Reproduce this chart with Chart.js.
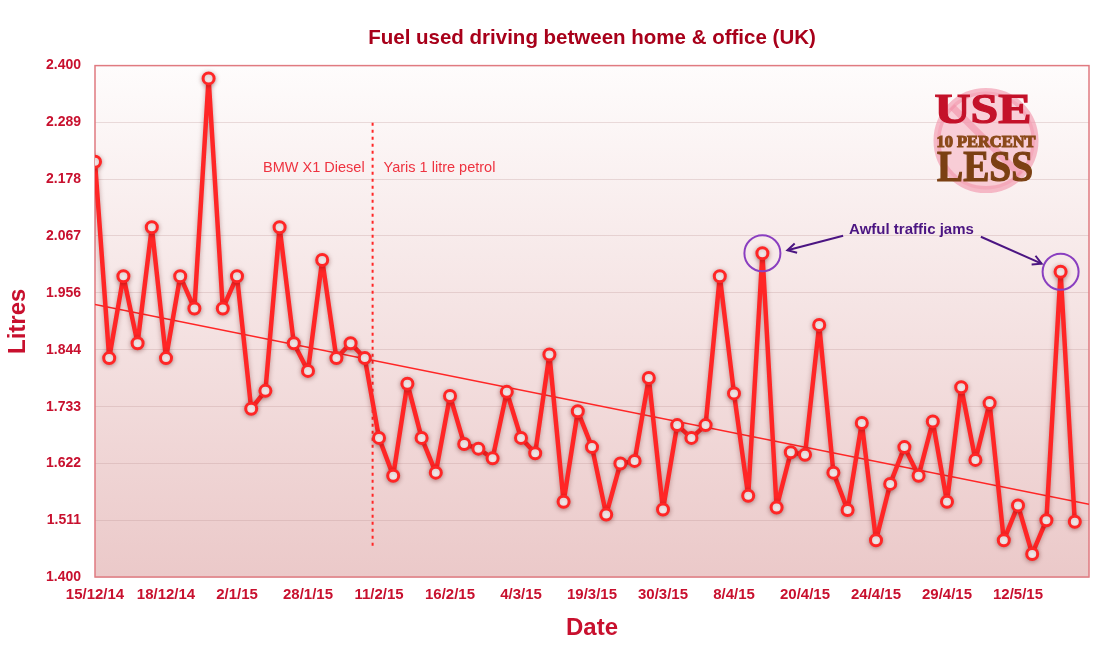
<!DOCTYPE html>
<html><head><meta charset="utf-8">
<script src="https://cdn.jsdelivr.net/npm/chart.js@4.4.0/dist/chart.umd.min.js"></script>
<style>html,body{margin:0;padding:0;background:#fff;} #wrap{width:1100px;height:651px;}</style>
</head><body><div id="wrap"><canvas id="c" width="1100" height="651"></canvas></div>
<script>
// ---- data ----
const dateLabels = ['15/12/14','18/12/14','2/1/15','28/1/15','11/2/15','16/2/15','4/3/15','19/3/15','30/3/15','8/4/15','20/4/15','24/4/15','29/4/15','12/5/15'];
const dateTickIndex = [0,5,10,15,20,25,30,35,40,45,50,55,60,65];
const litres = [
  2.212,1.828,1.988,1.857,2.084,1.828,1.988,1.925,2.375,1.925,
  1.988,1.729,1.764,2.084,1.857,1.803,2.020,1.828,1.857,1.828,
  1.672,1.598,1.778,1.672,1.604,1.754,1.660,1.651,1.632,1.762,
  1.672,1.642,1.835,1.547,1.724,1.654,1.522,1.622,1.627,1.789,
  1.532,1.697,1.672,1.697,1.988,1.759,1.559,2.033,1.536,1.644,
  1.639,1.893,1.604,1.531,1.701,1.472,1.582,1.654,1.598,1.704,
  1.547,1.771,1.629,1.740,1.472,1.540,1.445,1.511,1.997,1.508
];
const yTickLabels = ['1.400','1.511','1.622','1.733','1.844','1.956','2.067','2.178','2.289','2.400'];
const trendX = [0, 70];
const trendY = [1.933, 1.542];
const changeoverX = [19.55, 19.55];
const changeoverY = [1.461, 2.289];
const carLabels = ['BMW X1 Diesel', 'Yaris 1 litre petrol'];
const carLabelY = 2.2;
const jamIndices = [47, 68];
const jamText = 'Awful traffic jams';
const jamTextPos = [57.5, 2.079];

// ---- styles ----
const red = '#ff2626';
const tickColor = '#c8102e';
const FONT = 'Arial, "Liberation Sans", Helvetica, sans-serif';
const SERIF = '"Liberation Serif", "DejaVu Serif", serif';

function fitText(ctx, text, cx, base, width, font, color) {
  ctx.save();
  ctx.font = font;
  ctx.fillStyle = color;
  ctx.strokeStyle = color;
  ctx.lineWidth = 1.2;
  ctx.textAlign = 'center';
  ctx.textBaseline = 'alphabetic';
  const w = ctx.measureText(text).width;
  ctx.translate(cx, base);
  ctx.scale(width / w, 1);
  ctx.fillText(text, 0, 0);
  ctx.strokeText(text, 0, 0);
  ctx.restore();
}

const bgPlugin = {
  id: 'bg',
  beforeDraw(chart) {
    const {ctx, chartArea: a} = chart;
    ctx.save();
    ctx.fillStyle = '#fff';
    ctx.fillRect(0, 0, chart.width, chart.height);
    const g = ctx.createLinearGradient(0, a.top, 0, a.bottom);
    g.addColorStop(0, '#fefcfc');
    g.addColorStop(1, '#ebc9c9');
    ctx.fillStyle = g;
    ctx.fillRect(a.left, a.top, a.right - a.left, a.bottom - a.top);
    ctx.restore();
  },
  beforeDatasetsDraw(chart) {
    const {ctx, chartArea: a} = chart;
    ctx.save();
    ctx.strokeStyle = '#e07a80';
    ctx.lineWidth = 1.5;
    ctx.strokeRect(a.left, a.top, a.right - a.left, a.bottom - a.top);
    // logo
    const cx = a.right - 103, cy = a.top + 75;
    ctx.beginPath();
    ctx.arc(cx, cy, 49, 0, Math.PI * 2);
    ctx.fillStyle = 'rgba(246,180,195,0.6)';
    ctx.fill();
    ctx.lineWidth = 7;
    ctx.strokeStyle = 'rgba(242,145,168,0.6)';
    ctx.stroke();
    ctx.beginPath();
    ctx.moveTo(cx - 34, cy - 34);
    ctx.lineTo(cx + 34, cy + 34);
    ctx.stroke();
    ctx.restore();
    fitText(ctx, 'USE', cx - 3, cy - 18, 97, 'bold 43px ' + SERIF, '#c4122a');
    fitText(ctx, '10 PERCENT', cx, cy + 6, 99, 'bold 17px ' + SERIF, '#8b4a1a');
    fitText(ctx, 'LESS', cx - 1, cy + 40, 96, 'bold 44px ' + SERIF, '#7b4013');
  }
};

const shadowPlugin = {
  id: 'shadow',
  beforeDatasetDraw(chart, args) {
    if (args.index === 0) {
      const c = chart.ctx;
      c.save();
      c.shadowColor = 'rgba(90,0,0,0.35)';
      c.shadowBlur = 5;
      c.shadowOffsetY = 1;
    }
  },
  afterDatasetDraw(chart, args) {
    if (args.index === 0) chart.ctx.restore();
  }
};

function arrow(ctx, x1, y1, x2, y2) {
  ctx.beginPath();
  ctx.moveTo(x1, y1);
  ctx.lineTo(x2, y2);
  ctx.stroke();
  const ang = Math.atan2(y2 - y1, x2 - x1);
  const L = 10, w = 0.5;
  ctx.beginPath();
  ctx.moveTo(x2 - L * Math.cos(ang - w), y2 - L * Math.sin(ang - w));
  ctx.lineTo(x2, y2);
  ctx.lineTo(x2 - L * Math.cos(ang + w), y2 - L * Math.sin(ang + w));
  ctx.stroke();
}

const annotPlugin = {
  id: 'annot',
  afterDatasetsDraw(chart) {
    const {ctx, scales: {x, y}} = chart;
    ctx.save();
    // car labels
    const lx = x.getPixelForValue(changeoverX[0]);
    const ly = y.getPixelForValue(carLabelY);
    ctx.font = '14.5px ' + FONT;
    ctx.fillStyle = '#ee3340';
    ctx.textBaseline = 'middle';
    ctx.textAlign = 'right';
    ctx.fillText(carLabels[0], lx - 8, ly);
    ctx.textAlign = 'left';
    ctx.fillText(carLabels[1], lx + 11, ly);
    // circles
    const circles = jamIndices.map(i => ({cx: x.getPixelForValue(i), cy: y.getPixelForValue(litres[i])}));
    ctx.strokeStyle = '#8a3fc0';
    ctx.lineWidth = 2;
    circles.forEach(c => { ctx.beginPath(); ctx.arc(c.cx, c.cy, 18, 0, Math.PI * 2); ctx.stroke(); });
    // text
    const tx = x.getPixelForValue(jamTextPos[0]), ty = y.getPixelForValue(jamTextPos[1]);
    ctx.font = 'bold 15px ' + FONT;
    ctx.fillStyle = '#4b1582';
    ctx.textAlign = 'center';
    ctx.fillText(jamText, tx, ty);
    const tw = ctx.measureText(jamText).width;
    ctx.strokeStyle = '#4b1582';
    ctx.lineWidth = 2;
    arrow(ctx, tx - tw / 2 - 6, ty + 6, circles[0].cx + 25, circles[0].cy - 3);
    arrow(ctx, tx + tw / 2 + 7, ty + 7, circles[1].cx - 19, circles[1].cy - 8);
    ctx.restore();
  }
};

new Chart(document.getElementById('c'), {
  type: 'line',
  data: {
    datasets: [
      { label: 'Fuel', data: litres.map((v, i) => ({x: i, y: v})), borderColor: red, borderWidth: 4.5,
        borderJoinStyle: 'round', borderCapStyle: 'round',
        pointRadius: 5.5, pointBorderWidth: 3, pointBackgroundColor: '#fff', pointBorderColor: red, tension: 0, order: 0 },
      { label: 'Trend', data: trendX.map((v, i) => ({x: v, y: trendY[i]})), borderColor: red, borderWidth: 1.5,
        pointRadius: 0, order: 1 },
      { label: 'Change', data: changeoverX.map((v, i) => ({x: v, y: changeoverY[i]})), borderColor: red, borderWidth: 2,
        borderDash: [3, 4], pointRadius: 0, order: 2 }
    ]
  },
  options: {
    responsive: false, animation: false, devicePixelRatio: 1,
    layout: {padding: {left: 0, right: 11, top: 0, bottom: 0}},
    plugins: {
      legend: {display: false}, tooltip: {enabled: false},
      title: {display: true, fullSize: false, text: 'Fuel used driving between home & office (UK)', color: '#a8001a',
        font: {family: FONT, size: 20.5, weight: 'bold'}, padding: {top: 26, bottom: 15}}
    },
    scales: {
      x: {
        type: 'linear', min: 0, max: 70,
        grid: {display: false}, border: {display: false},
        afterBuildTicks: s => { s.ticks = dateTickIndex.map(v => ({value: v})); },
        ticks: {color: tickColor, font: {family: FONT, size: 15, weight: 'bold'}, padding: 1, maxRotation: 0, autoSkip: false,
          callback: v => { const k = dateTickIndex.indexOf(v); return k >= 0 ? dateLabels[k] : ''; }},
        title: {display: true, text: 'Date', color: tickColor, font: {family: FONT, size: 24, weight: 'bold'}, padding: {top: 0, bottom: 8}},
        afterFit: s => { s.height = 74; }
      },
      y: {
        min: 1.4, max: 2.4,
        grid: {color: 'rgba(190,150,150,0.3)', lineWidth: 1, drawTicks: false}, border: {display: false},
        afterBuildTicks: s => { s.ticks = yTickLabels.map(t => ({value: parseFloat(t)})); },
        ticks: {color: tickColor, font: {family: FONT, size: 14, weight: 'bold'}, padding: 14,
          callback: v => yTickLabels.find(t => Math.abs(parseFloat(t) - v) < 1e-6) || ''},
        title: {display: true, text: 'Litres', color: tickColor, font: {family: FONT, size: 24, weight: 'bold'}, padding: {top: 4, bottom: 0}},
        afterFit: s => { s.width = 95; }
      }
    }
  },
  plugins: [bgPlugin, shadowPlugin, annotPlugin]
});
</script>
</body></html>
